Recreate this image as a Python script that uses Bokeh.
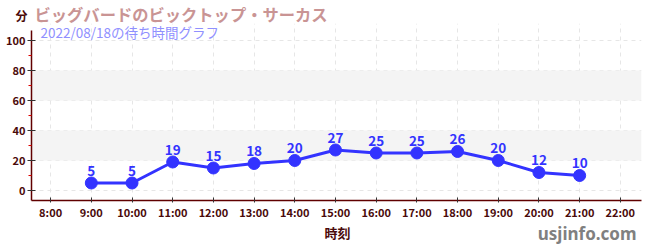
from bokeh.plotting import figure
from bokeh.layouts import column
from bokeh.models import ColumnDataSource, FixedTicker, Label, BoxAnnotation, Range1d
from bokeh.core.properties import value
from bokeh.embed import file_html
from bokeh.resources import INLINE

hours = [9, 10, 11, 12, 13, 14, 15, 16, 17, 18, 19, 20, 21]
waits = [5, 5, 19, 15, 18, 20, 27, 25, 25, 26, 20, 12, 10]
x_ticks = list(range(8, 23))
x_labels = {h: f"{h}:00" for h in x_ticks}
y_ticks = [0, 20, 40, 60, 80, 100]
y_minor = [10, 30, 50, 70, 90]
bands = [(20, 40), (60, 80)]
title = "ビッグバードのビックトップ・サーカス"
subtitle = "2022/08/18の待ち時間グラフ"
unit = "分"
xlabel = "時刻"
site = "usjinfo.com"

FONT = "Noto Sans CJK JP"
DARK = "#4a0a0a"
BLUE = "#3333ff"


def blank(h):
    f = figure(width=650, height=h, output_backend="svg", toolbar_location=None,
               x_range=Range1d(0, 650), y_range=Range1d(0, h),
               x_axis_location=None, y_axis_location=None,
               min_border=0, min_border_left=0, min_border_right=0,
               min_border_top=0, min_border_bottom=0)
    f.grid.visible = False
    f.outline_line_color = None
    if "frame_align" in f.properties():
        f.frame_align = False
    else:
        f.x_range = Range1d(31, 641)
    return f


# header
head = blank(23)
head.add_layout(Label(x=15, y=8, text=unit, text_font=FONT, text_font_size="12px",
                      text_font_style="bold", text_color=DARK, text_baseline="middle"))
head.add_layout(Label(x=34, y=10, text=title, text_font=FONT, text_font_size="16.3px",
                      text_font_style="bold", text_color="#c99494", text_baseline="middle"))

# main chart
p = figure(width=650, height=199, output_backend="svg", toolbar_location=None,
           x_range=Range1d(7.53, 22.52), y_range=Range1d(-6.67, 111.33),
           min_border_left=31, min_border_right=9, min_border_top=0, min_border_bottom=22)
p.outline_line_color = None

for lo, hi in bands:
    p.add_layout(BoxAnnotation(bottom=lo, top=hi, fill_color="#f4f4f4", fill_alpha=1.0,
                               line_color=None, level="underlay"))

src = ColumnDataSource(dict(x=hours, y=waits, t=[str(v) for v in waits]))
p.line("x", "y", source=src, line_color=BLUE, line_width=3)
p.scatter("x", "y", source=src, size=12, color=BLUE)
p.text("x", "y", text="t", source=src, text_align="center", text_baseline="bottom",
       y_offset=-7, text_color=BLUE, text_font=value(FONT), text_font_size="13.5px",
       text_font_style="bold")

p.xaxis.ticker = FixedTicker(ticks=x_ticks)
p.xaxis.major_label_overrides = x_labels
p.yaxis.ticker = FixedTicker(ticks=y_ticks, minor_ticks=y_minor)
p.yaxis.bounds = (-6.67, 106.67)
for ax in (p.xaxis[0], p.yaxis[0]):
    ax.axis_line_color = "#600000"
    ax.axis_line_width = 1.5
    ax.major_tick_line_color = "#333333"
    ax.major_label_text_color = DARK
    ax.major_label_text_font = FONT
    ax.major_label_text_font_size = "11px"
    ax.major_label_text_font_style = "bold"
p.xaxis.major_tick_in = 3
p.xaxis.major_tick_out = 2
p.xaxis.major_label_standoff = 1
p.yaxis.major_tick_in = 4
p.yaxis.major_tick_out = 4
p.yaxis.major_label_standoff = 2
p.xaxis.minor_tick_line_color = None
p.yaxis.minor_tick_line_color = "#dd0000"
p.yaxis.minor_tick_in = 0
p.yaxis.minor_tick_out = 3

p.xgrid.ticker = FixedTicker(ticks=x_ticks)
for g in (p.xgrid[0], p.ygrid[0]):
    g.grid_line_color = "#e6e6e6"
    g.grid_line_dash = "4 4"
    g.grid_line_width = 1

p.add_layout(Label(x=9, y=169, x_units="screen", y_units="screen", text=subtitle,
                   text_font=FONT, text_font_size="13.5px",
                   text_color="#9090ff", text_baseline="middle"))

# footer
foot = blank(28)
foot.add_layout(Label(x=337, y=18, text=xlabel, text_font=FONT, text_font_size="13px",
                      text_font_style="bold", text_color=DARK, text_align="center",
                      text_baseline="middle"))
foot.add_layout(Label(x=636, y=17, text=site, text_font="Noto Sans", text_font_size="17px",
                      text_font_style="bold", text_color="#808080", text_align="right",
                      text_baseline="middle"))

layout = column(head, p, foot, spacing=0)
open("out.html", "w").write(file_html(layout, INLINE))
